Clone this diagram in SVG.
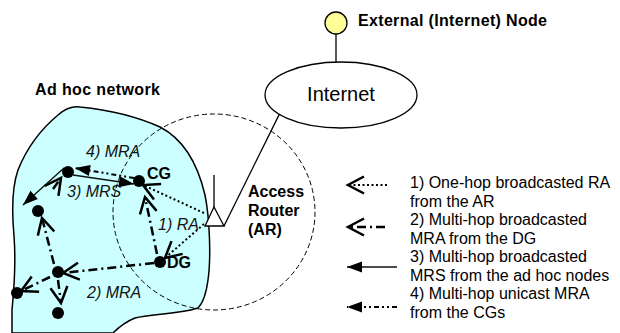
<svg xmlns="http://www.w3.org/2000/svg" width="620" height="333" viewBox="0 0 620 333">
<style>
text{font-family:"Liberation Sans",Arial,sans-serif;fill:#000}
.b{font-weight:bold;font-size:16px}
.lbl{font-style:italic;font-size:16px;fill:#111}
.leg{font-size:16px}
.node{fill:#000}
.ra{stroke:#000;stroke-width:2;stroke-dasharray:2,2.5;fill:none}
.mra{stroke:#000;stroke-width:2.5;stroke-dasharray:9,4,2,4;fill:none}
.mrs{stroke:#111;stroke-width:1.4;fill:none}
.uni{stroke:#000;stroke-width:2;stroke-dasharray:5,3,2,3,2,3;fill:none}
.thin{stroke:#000;stroke-width:1.3;fill:none}
</style>
<defs>
<marker id="openV" markerUnits="userSpaceOnUse" markerWidth="24" markerHeight="24" orient="auto" refX="0" refY="0" overflow="visible">
<path d="M-16,-8.5 L0,0 L-16,8.5" fill="none" stroke="#000" stroke-width="2.5"/>
</marker>
<marker id="fill" markerUnits="userSpaceOnUse" markerWidth="24" markerHeight="24" orient="auto" refX="0" refY="0" overflow="visible">
<path d="M-15,-5.5 L0,0 L-15,5.5 Z" fill="#000"/>
</marker>
</defs>
<rect width="620" height="333" fill="#fff"/>

<g id="adhoc-network">
<path d="M12,333 L12,310 C14,290 16,262 14,236 C12,214 11,190 18,170 C26,150 40,130 58,115 C66,108 72,106 80,107 C110,110 140,118 160,127 C185,140 198,165 205,195 C210,220 211,260 208,280 C206,295 203,303 198,308 C180,314 150,314 135,318 C125,322 118,328 113,333 Z" fill="#ccffff" stroke="#000" stroke-width="1.5"/>
<text class="b" x="35" y="95" textLength="125" lengthAdjust="spacing">Ad hoc network</text>
</g>

<g id="coverage">
<ellipse cx="214" cy="212" rx="101" ry="98" fill="none" stroke="#000" stroke-width="1" stroke-dasharray="5,3"/>
</g>

<g id="access-router">
<line x1="224" y1="226" x2="279.4" y2="114.1" class="thin"/>
<line x1="214" y1="175" x2="214" y2="207" class="thin"/>
<path d="M214,207 L205,226 L224,226 Z" fill="#fff" stroke="#000" stroke-width="1.3"/>
<text class="b" x="248" y="197">Access</text>
<text class="b" x="248" y="216">Router</text>
<text class="b" x="248" y="235">(AR)</text>
</g>

<g id="internet">
<ellipse cx="341" cy="95" rx="76" ry="33" fill="#fff" stroke="#000" stroke-width="1.3"/>
<text x="341" y="101" font-size="20" text-anchor="middle">Internet</text>
</g>

<g id="external-node">
<line x1="336" y1="34" x2="336" y2="62" class="thin"/>
<circle cx="336" cy="23" r="11" fill="#ffff99" stroke="#000" stroke-width="1.3"/>
<text class="b" x="358" y="26" textLength="189" lengthAdjust="spacing">External (Internet) Node</text>
</g>

<g id="connectors">
<!-- 1) RA -->
<line x1="204" y1="213" x2="143" y2="185" class="ra" marker-end="url(#openV)"/>
<line x1="204" y1="224" x2="165" y2="258" class="ra" marker-end="url(#openV)"/>
<!-- 2) MRA -->
<line x1="157" y1="254" x2="145" y2="197" class="mra" marker-end="url(#openV)"/>
<line x1="154" y1="263" x2="63" y2="273" class="mra" marker-end="url(#openV)"/>
<line x1="54" y1="264" x2="42" y2="218" class="mra" marker-end="url(#openV)"/>
<line x1="53" y1="189" x2="61" y2="178" class="mra" stroke-dasharray="2.5,30" marker-end="url(#openV)"/>
<line x1="50" y1="277" x2="21" y2="291" class="mra" stroke-dasharray="4,11,2,30" marker-end="url(#openV)"/>
<line x1="58" y1="280" x2="61" y2="303" class="mra" stroke-dasharray="6,6,2,30" marker-end="url(#openV)"/>
<!-- 3) MRS -->
<line x1="73" y1="175" x2="134" y2="184" class="mrs" marker-end="url(#fill)"/>
<line x1="64" y1="168" x2="23" y2="205" class="mrs" marker-end="url(#fill)"/>
<!-- 4) MRA unicast -->
<line x1="134" y1="178" x2="75" y2="168" class="uni" marker-end="url(#fill)"/>
</g>

<g id="node-tl"><circle class="node" cx="68" cy="172" r="6"/></g>
<g id="node-cg"><circle class="node" cx="139" cy="181" r="6"/><text class="b" x="147" y="179">CG</text></g>
<g id="node-l"><circle class="node" cx="38" cy="211" r="6"/></g>
<g id="node-cbl"><circle class="node" cx="58" cy="272" r="6"/></g>
<g id="node-fl"><circle class="node" cx="17" cy="293" r="6"/></g>
<g id="node-b"><circle class="node" cx="58" cy="313" r="6"/></g>
<g id="node-dg"><circle class="node" cx="160" cy="262" r="6"/><text class="b" x="167" y="268">DG</text></g>

<g id="flow-labels">
<text class="lbl" x="86" y="157">4) MRA</text>
<text class="lbl" x="67" y="197">3) MRS</text>
<text class="lbl" x="158" y="230">1) RA</text>
<text class="lbl" x="87" y="298">2) MRA</text>
</g>

<g id="legend">
<line x1="387" y1="185" x2="348" y2="185" class="ra" marker-end="url(#openV)" stroke-dasharray="2,2.5"/>
<line x1="385" y1="227" x2="348" y2="227" class="mra" stroke-dasharray="12,6,2,30" marker-end="url(#openV)"/>
<line x1="397" y1="267" x2="347" y2="267" class="mrs" marker-end="url(#fill)"/>
<line x1="397" y1="307" x2="347" y2="307" class="uni" marker-end="url(#fill)"/>
<text class="leg" x="410" y="188">1) One-hop broadcasted RA</text>
<text class="leg" x="410" y="206.5">from the AR</text>
<text class="leg" x="410" y="225">2) Multi-hop broadcasted</text>
<text class="leg" x="410" y="243.5">MRA from the DG</text>
<text class="leg" x="410" y="262">3) Multi-hop broadcasted</text>
<text class="leg" x="410" y="280.5">MRS from the ad hoc nodes</text>
<text class="leg" x="410" y="299">4) Multi-hop unicast MRA</text>
<text class="leg" x="410" y="317.5">from the CGs</text>
</g>
</svg>
